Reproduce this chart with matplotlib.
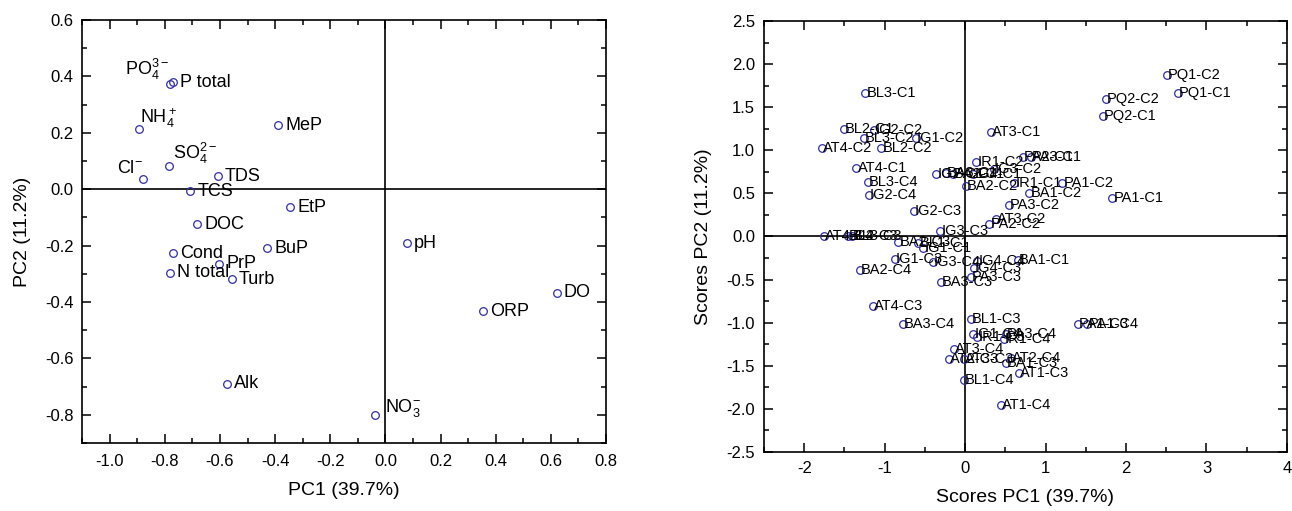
import matplotlib
matplotlib.use("Agg")
import matplotlib.pyplot as plt
from matplotlib.ticker import MultipleLocator

plt.rcParams['font.family'] = ['Liberation Sans', 'DejaVu Sans']
plt.rcParams['mathtext.fontset'] = 'custom'
plt.rcParams['mathtext.rm'] = 'Liberation Sans'
plt.rcParams['mathtext.it'] = 'Liberation Sans'
plt.rcParams['axes.linewidth'] = 1.2

# loadings (left panel)
load_names = [r'PO$_4^{3-}$', 'P total', r'NH$_4^+$', r'Cl$^{-}$', r'SO$_4^{2-}$', 'TDS', 'TCS',
              'MeP', 'EtP', 'DOC', 'BuP', 'Cond', 'N total', 'PrP', 'Turb', 'Alk',
              r'NO$_3^{-}$', 'pH', 'ORP', 'DO']
load_pc1 = [-0.78, -0.77, -0.893, -0.879, -0.784, -0.607, -0.708,
            -0.389, -0.346, -0.683, -0.429, -0.77, -0.78, -0.603, -0.556, -0.574,
            -0.038, 0.078, 0.353, 0.621]
load_pc2 = [0.372, 0.38, 0.212, 0.035, 0.081, 0.046, -0.007,
            0.226, -0.064, -0.124, -0.209, -0.227, -0.297, -0.265, -0.319, -0.69,
            -0.80, -0.191, -0.432, -0.368]

# scores (right panel)
score_names = ['BL3-C1', 'BL2-C1', 'IG2-C2', 'BL3-C2', 'IG1-C2', 'BL2-C2', 'AT4-C2', 'AT4-C1',
               'BL3-C4', 'IG2-C4', 'IG2-C3', 'IG2-C1', 'BA3-C1', 'BA2-C1', 'IG4-C1', 'IR1-C2',
               'PA2-C1', 'PA3-C1', 'IG3-C2', 'BA2-C2', 'IR1-C1', 'PA1-C2', 'BA1-C2', 'PA3-C2',
               'AT3-C2', 'PA2-C2', 'AT3-C1', 'PQ1-C2', 'PQ1-C1', 'PQ2-C2', 'PQ2-C1', 'PA1-C1',
               'IG3-C3', 'AT4-C4', 'BL2-C3', 'BL3-C3', 'BA2-C3', 'BL1-C1', 'IG1-C1', 'IG1-C3',
               'IG3-C4', 'IG4-C4', 'IG4-C3', 'BA1-C1', 'PA3-C3', 'BA3-C3', 'BA2-C4', 'AT4-C3',
               'BA3-C4', 'BL1-C3', 'PA1-C3', 'PA1-C4', 'IG1-C4', 'IR1-C3', 'PA3-C4', 'IR1-C4',
               'AT3-C4', 'AT2-C3', 'AT3-C3', 'AT2-C4', 'BA1-C3', 'AT1-C3', 'BL1-C4', 'AT1-C4']
score_pc1 = [-1.24, -1.51, -1.13, -1.26, -0.61, -1.04, -1.78, -1.35,
             -1.21, -1.20, -0.64, -0.36, -0.24, -0.15, 0.10, 0.14,
             0.72, 0.82, 0.36, 0.01, 0.61, 1.21, 0.80, 0.545,
             0.38, 0.30, 0.32, 2.51, 2.64, 1.75, 1.71, 1.83,
             -0.31, -1.76, -1.46, -1.41, -0.83, -0.58, -0.52, -0.87,
             -0.40, 0.15, 0.11, 0.66, 0.07, -0.30, -1.31, -1.15,
             -0.77, 0.07, 1.40, 1.52, 0.10, 0.15, 0.51, 0.48,
             -0.14, -0.20, -0.02, 0.57, 0.51, 0.67, -0.02, 0.45]
score_pc2 = [1.67, 1.25, 1.23, 1.14, 1.14, 1.03, 1.03, 0.80,
             0.63, 0.48, 0.29, 0.72, 0.74, 0.72, 0.72, 0.86,
             0.92, 0.92, 0.78, 0.58, 0.62, 0.62, 0.50, 0.36,
             0.20, 0.15, 1.21, 1.87, 1.67, 1.59, 1.40, 0.45,
             0.06, 0.01, 0.00, 0.01, -0.06, -0.07, -0.13, -0.26,
             -0.30, -0.28, -0.37, -0.27, -0.47, -0.53, -0.39, -0.81,
             -1.01, -0.96, -1.01, -1.01, -1.13, -1.17, -1.13, -1.19,
             -1.30, -1.42, -1.42, -1.41, -1.47, -1.58, -1.67, -1.96]

# label placement for the ion labels, offsets in pixels
special = {0: ('right', 'baseline', -1, 9), 2: ('left', 'baseline', 1, 6),
           3: ('right', 'baseline', 0, 6), 4: ('left', 'baseline', 4, 7),
           16: ('left', 'baseline', 10, 3)}

mcol = '#30309c'

fig = plt.figure(figsize=(12.92, 5.11), dpi=100)
ax1 = fig.add_axes([0.0635, 0.1331, 0.4056, 0.8278])
ax2 = fig.add_axes([0.5913, 0.1155, 0.4048, 0.8434])


def style(ax, xpad, ypad):
    ax.tick_params(which='both', direction='in', top=True, right=True, width=1.1, labelsize=12)
    ax.tick_params(which='major', length=6.5)
    ax.tick_params(which='minor', length=3.5)
    ax.tick_params(axis='x', pad=xpad)
    ax.tick_params(axis='y', pad=ypad)
    ax.axhline(0, color='black', lw=1.2, zorder=1)
    ax.axvline(0, color='black', lw=1.2, zorder=1)


ax1.plot(load_pc1, load_pc2, 'o', ms=5.5, mfc='none', mec=mcol, mew=0.9, zorder=3)
for i, name in enumerate(load_names):
    ha, va, dx, dy = special.get(i, ('left', 'center', 7, 0))
    ax1.annotate(name, (load_pc1[i], load_pc2[i]), xytext=(dx, dy), textcoords='offset pixels',
                 ha=ha, va=va, fontsize=13)
ax1.set_xlim(-1.1, 0.8)
ax1.set_ylim(-0.9, 0.6)
ax1.xaxis.set_major_locator(MultipleLocator(0.2))
ax1.xaxis.set_minor_locator(MultipleLocator(0.1))
ax1.yaxis.set_major_locator(MultipleLocator(0.2))
ax1.yaxis.set_minor_locator(MultipleLocator(0.1))
ax1.xaxis.set_major_formatter(lambda v, p: f'{v:.1f}')
ax1.yaxis.set_major_formatter(lambda v, p: f'{v:.1f}')
style(ax1, 8, 6)
ax1.set_xlabel('PC1 (39.7%)', fontsize=14, labelpad=9)
ax1.set_ylabel('PC2 (11.2%)', fontsize=14, labelpad=10)

ax2.plot(score_pc1, score_pc2, 'o', ms=5.5, mfc='none', mec=mcol, mew=0.9, zorder=3)
for i, name in enumerate(score_names):
    ax2.annotate(name, (score_pc1[i], score_pc2[i]), xytext=(1, 0), textcoords='offset pixels',
                 ha='left', va='center', fontsize=10.5)
ax2.set_xlim(-2.5, 4)
ax2.set_ylim(-2.5, 2.5)
ax2.xaxis.set_major_locator(MultipleLocator(1))
ax2.xaxis.set_minor_locator(MultipleLocator(0.5))
ax2.yaxis.set_major_locator(MultipleLocator(0.5))
ax2.yaxis.set_minor_locator(MultipleLocator(0.25))
ax2.xaxis.set_major_formatter(lambda v, p: f'{v:.0f}')
ax2.yaxis.set_major_formatter(lambda v, p: f'{v:.1f}')
style(ax2, 6.5, 6.5)
ax2.set_xlabel('Scores PC1 (39.7%)', fontsize=14, labelpad=9)
ax2.set_ylabel('Scores PC2 (11.2%)', fontsize=14, labelpad=10)

fig.savefig('out.png', dpi=100)
